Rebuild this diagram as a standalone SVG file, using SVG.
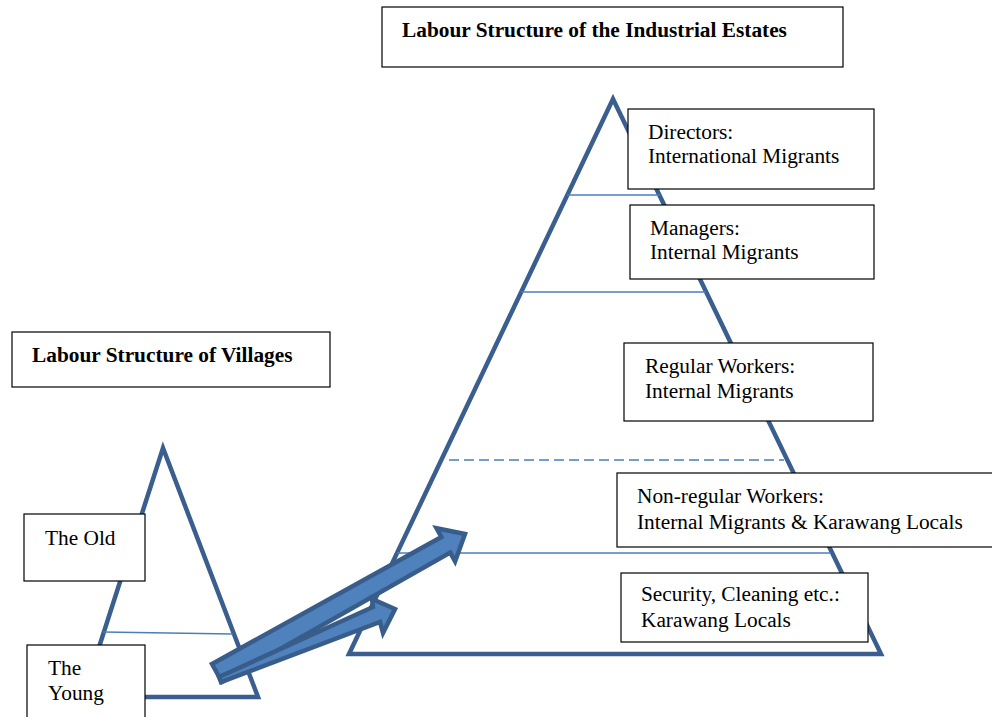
<svg xmlns="http://www.w3.org/2000/svg" width="992" height="717" viewBox="0 0 992 717">
<style>
.tri{fill:none;stroke:#3a5f8f;stroke-width:4.5;stroke-linejoin:miter}
.sep{stroke:#4a7ebb;stroke-width:1.6;fill:none}
.box{fill:#fff;stroke:#000;stroke-width:1.2}
.t{font-family:"Liberation Serif","Times New Roman",serif;font-size:21.33px;fill:#000}
.b{font-weight:bold}
.arr{fill:#4f81bd;stroke:#385d8a;stroke-width:4.5;stroke-linejoin:miter}
</style>
<rect width="992" height="717" fill="#fff"/>
<g id="shapes">
<polygon class="tri" points="613,99 881,654 349,654"/>
<polygon class="tri" points="163,448 258,697 83,697"/>
<line class="sep" x1="567" y1="195" x2="660" y2="195"/>
<line class="sep" x1="521" y1="292" x2="706" y2="292"/>
<line class="sep" x1="449" y1="460" x2="784" y2="460" stroke-dasharray="10,5"/>
<line class="sep" x1="397" y1="553" x2="831" y2="553"/>
<line class="sep" x1="103" y1="632" x2="233" y2="634"/>
</g>
<g id="n-title-estates">
<rect class="box" x="382" y="7" width="461" height="60"/>
<text class="t b" x="402" y="37">Labour Structure of the Industrial Estates</text>
</g>
<g id="n-title-villages">
<rect class="box" x="12" y="332" width="318" height="55"/>
<text class="t b" x="32" y="362">Labour Structure of Villages</text>
</g>
<g id="n-directors">
<rect class="box" x="628" y="109" width="246" height="80"/>
<text class="t" x="648" y="139">Directors:</text>
<text class="t" x="648" y="163">International Migrants</text>
</g>
<g id="n-managers">
<rect class="box" x="630" y="205" width="244" height="74"/>
<text class="t" x="650" y="235">Managers:</text>
<text class="t" x="650" y="259">Internal Migrants</text>
</g>
<g id="n-regular">
<rect class="box" x="624" y="343" width="249" height="78"/>
<text class="t" x="645" y="373">Regular Workers:</text>
<text class="t" x="645" y="398">Internal Migrants</text>
</g>
<g id="n-nonregular">
<rect class="box" x="617" y="473" width="380" height="74"/>
<text class="t" x="637" y="503">Non-regular Workers:</text>
<text class="t" x="637" y="529">Internal Migrants &amp; Karawang Locals</text>
</g>
<g id="n-security">
<rect class="box" x="621" y="573" width="247" height="69"/>
<text class="t" x="641" y="601">Security, Cleaning etc.:</text>
<text class="t" x="641" y="627">Karawang Locals</text>
</g>
<g id="n-old">
<rect class="box" x="24" y="514" width="121" height="67"/>
<text class="t" x="45" y="545">The Old</text>
</g>
<g id="n-young">
<rect class="box" x="27" y="645" width="118" height="80"/>
<text class="t" x="48" y="675">The</text>
<text class="t" x="48" y="700">Young</text>
</g>
<g id="connectors">
<polygon class="arr" points="212,664 441.4,537 436.5,528.2 465,534 455.1,561.4 450.2,552.6 222,682"/>
<polygon class="arr" points="219,677 373,607 372,599 395,609 383,633 380,622 221,682"/>
</g>
</svg>
